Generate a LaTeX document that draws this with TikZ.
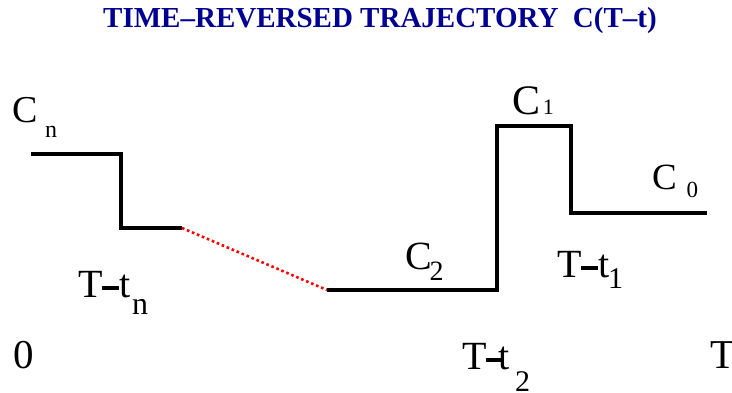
\documentclass[tikz,border=0pt]{standalone}
\usepackage{fontspec}
\setmainfont{Liberation Serif}
\usetikzlibrary{positioning}
\definecolor{titleblue}{RGB}{0,0,145}
\definecolor{gapred}{RGB}{255,0,0}
\newcommand{\lblsize}[1]{\fontsize{#1}{#1}\selectfont}
% subscript: kern, drop, size, text
\newcommand{\sublab}[4]{\kern#1\lower#2\hbox{\lblsize{#3}#4}}
% qalin tire
\newcommand{\tdash}{\kern-1pt\rule[8pt]{17pt}{3.6pt}\kern0.5pt}
\tikzset{
  % sarlavha
  titletext/.style = {font=\bfseries\lblsize{29}, text=titleblue, inner sep=0pt, anchor=base},
  % pog'onali chiziq
  steppath/.style  = {line width=3.3pt, line join=miter, draw=black},
  gappath/.style   = {line width=2.6pt, draw=gapred, dash pattern=on 2.6pt off 2.8pt},
  % etiketlar
  lab/.style       = {inner sep=0pt, anchor=base west, font=\lblsize{40}},
}
\begin{document}
\begin{tikzpicture}[x=1pt,y=-1pt]
  \useasboundingbox (0,0) rectangle (732,393);
  % Sarlavha
  \node[titletext] (title) at (380,28) {TIME--REVERSED TRAJECTORY\ \ C(T--t)};
  % Trayektoriya nuqtalari
  \coordinate (n0) at (31,154);
  \coordinate (n1) at (121,154);
  \coordinate (n2) at (121,228);
  \coordinate (n3) at (182,228);
  \coordinate (m0) at (327,290);
  \coordinate (m1) at (497,290);
  \coordinate (m2) at (497,126);
  \coordinate (m3) at (571,126);
  \coordinate (m4) at (571,213);
  \coordinate (m5) at (707,213);
  % Pog'onalar
  \draw[steppath] (n0) -- (n1) -- (n2) -- (n3);
  \draw[gappath] (n3) -- (m0);
  \draw[steppath] (m0) -- (m1) -- (m2) -- (m3) -- (m4) -- (m5);
  % Holatlar
  \node[lab, font=\lblsize{38}] (cn) at (12,123) {C\sublab{7.7pt}{15pt}{24}{n}};
  \node[lab, font=\lblsize{42}] (c1) at (512,115) {C\sublab{2.6pt}{0pt}{22}{1}};
  \node[lab, font=\lblsize{37}] (c0) at (652,190) {C\sublab{9.8pt}{8pt}{23}{0}};
  \node[lab] (c2) at (405,270) {C\sublab{-2.2pt}{10pt}{28}{2}};
  % Vaqtlar
  \node[lab] (ttn) at (78,298) {T\tdash t\sublab{2pt}{17pt}{32}{n}};
  \node[lab] (tt1) at (557,278) {T\tdash t\sublab{-1pt}{10pt}{30}{1}};
  \node[lab] (tt2) at (462,370) {T\tdash\kern-5pt t\sublab{6pt}{21pt}{30}{2}};
  \node[lab, font=\lblsize{41}] (t0) at (13,368) {0};
  \node[lab, font=\lblsize{41}] (tT) at (710,368) {T};
\end{tikzpicture}
\end{document}
